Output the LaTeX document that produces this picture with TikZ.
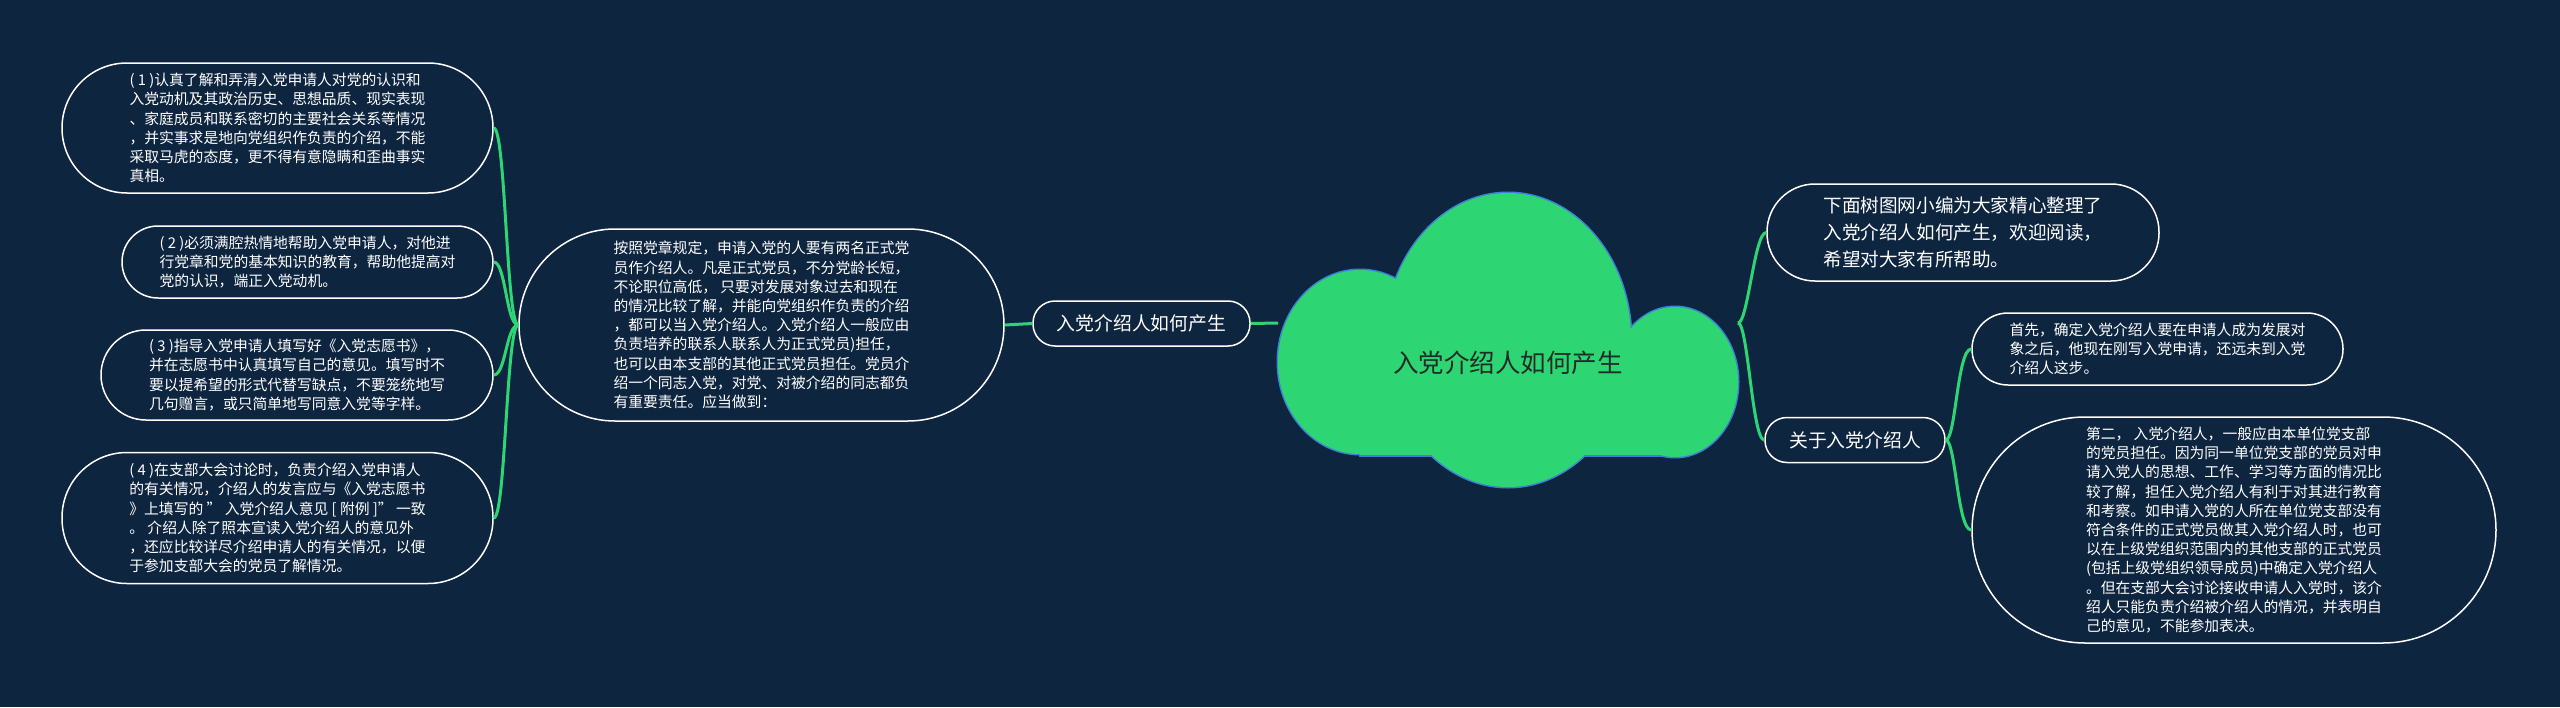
\documentclass[tikz,border=0pt]{standalone}
\usepackage{fontspec}
\setmainfont{Noto Sans CJK SC}

\definecolor{bgnavy}{RGB}{14,37,64}
\definecolor{leafgreen}{RGB}{46,213,115}
\definecolor{cloudblue}{RGB}{62,128,214}
\definecolor{rootink}{RGB}{32,44,40}

\tikzset{
    topic/.style={draw=white, line width=1.5pt, fill=bgnavy, text=white, align=left, inner sep=0pt,
        font=\fontsize{14.8pt}{19.2pt}\selectfont},
    tag/.style={topic, font=\fontsize{18.8pt}{24pt}\selectfont},
    link/.style={leafgreen, line width=3pt}
}

\begin{document}
\begin{tikzpicture}[x=1pt,y=-1pt]

\useasboundingbox (0,0) rectangle (2560,707);
\fill[bgnavy] (0,0) rectangle (2560,707);

% cloud: outline first, fill on top
        \draw[cloudblue, line width=3pt] (1508,340) ellipse [x radius=123, y radius=147];
        \draw[cloudblue, line width=3pt] (1360,362) ellipse [x radius=82, y radius=92];
        \draw[cloudblue, line width=3pt] (1675,382) ellipse [x radius=63, y radius=75];
        \draw[cloudblue, line width=3pt] (1360,400) rectangle (1675,455);
        \fill[leafgreen] (1508,340) ellipse [x radius=123, y radius=147];
        \fill[leafgreen] (1360,362) ellipse [x radius=82, y radius=92];
        \fill[leafgreen] (1675,382) ellipse [x radius=63, y radius=75];
        \fill[leafgreen] (1360,400) rectangle (1675,455);
        \node (root) at (1508,363) [text=rootink, font=\fontsize{25.5pt}{30pt}\selectfont] {入党介绍人如何产生};
        \coordinate (rootW) at (1278,323);
        \coordinate (rootE) at (1738,323);

% left branch
        \node (how) at (1141.5,323.5) [tag, minimum width=217pt, minimum height=45pt, rounded corners=22pt] {入党介绍人如何产生};
        \node (rule) at (761.5,325) [topic, minimum width=485pt, minimum height=192pt, rounded corners=96pt]
            {按照党章规定，申请入党的人要有两名正式党\\员作介绍人。凡是正式党员，不分党龄长短，\\不论职位高低， 只要对发展对象过去和现在\\的情况比较了解，并能向党组织作负责的介绍\\，都可以当入党介绍人。入党介绍人一般应由\\负责培养的联系人联系人为正式党员)担任，\\也可以由本支部的其他正式党员担任。党员介\\绍一个同志入党，对党、对被介绍的同志都负\\有重要责任。应当做到：};
        \node (duty1) at (277.5,128) [topic, minimum width=431pt, minimum height=130pt, rounded corners=65pt]
            {( 1 )认真了解和弄清入党申请人对党的认识和\\入党动机及其政治历史、思想品质、现实表现\\、家庭成员和联系密切的主要社会关系等情况\\，并实事求是地向党组织作负责的介绍，不能\\采取马虎的态度，更不得有意隐瞒和歪曲事实\\真相。};
        \node (duty2) at (307.5,262) [topic, minimum width=371pt, minimum height=72pt, rounded corners=36pt]
            {( 2 )必须满腔热情地帮助入党申请人，对他进\\行党章和党的基本知识的教育，帮助他提高对\\党的认识，端正入党动机。};
        \node (duty3) at (297,375) [topic, minimum width=392pt, minimum height=90pt, rounded corners=45pt]
            {( 3 )指导入党申请人填写好《入党志愿书》，\\并在志愿书中认真填写自己的意见。填写时不\\要以提希望的形式代替写缺点，不要笼统地写\\几句赠言，或只简单地写同意入党等字样。};
        \node (duty4) at (277.5,518) [topic, minimum width=431pt, minimum height=131pt, rounded corners=65pt]
            {( 4 )在支部大会讨论时，负责介绍入党申请人\\的有关情况，介绍人的发言应与《入党志愿书\\》上填写的 " 入党介绍人意见 [ 附例 ]" 一致\\。 介绍人除了照本宣读入党介绍人的意见外\\，还应比较详尽介绍申请人的有关情况，以便\\于参加支部大会的党员了解情况。};

        \draw[link] (how.west) -- (rule.east);
        \draw[link] (rootW) -- (how.east);
        \foreach \d in {duty1,duty2,duty3,duty4}
            \draw[link] (rule.west) .. controls +(-12,0) and +(12,0) .. (\d.east);

% right branch
        \node (intro) at (1963,232.5) [tag, minimum width=392pt, minimum height=97pt, rounded corners=48pt, font=\fontsize{18.6pt}{26.7pt}\selectfont]
            {下面树图网小编为大家精心整理了\\入党介绍人如何产生，欢迎阅读，\\希望对大家有所帮助。};
        \node (about) at (1855,440) [tag, minimum width=180pt, minimum height=45pt, rounded corners=22pt] {关于入党介绍人};
        \node (first) at (2157.5,349) [topic, minimum width=371pt, minimum height=72pt, rounded corners=36pt]
            {首先，确定入党介绍人要在申请人成为发展对\\象之后，他现在刚写入党申请，还远未到入党\\介绍人这步。};
        \node (second) at (2234,530) [topic, minimum width=524pt, minimum height=226pt, rounded corners=113pt]
            {第二， 入党介绍人，一般应由本单位党支部\\的党员担任。因为同一单位党支部的党员对申\\请入党人的思想、工作、学习等方面的情况比\\较了解，担任入党介绍人有利于对其进行教育\\和考察。如申请入党的人所在单位党支部没有\\符合条件的正式党员做其入党介绍人时，也可\\以在上级党组织范围内的其他支部的正式党员\\(包括上级党组织领导成员)中确定入党介绍人\\。但在支部大会讨论接收申请人入党时，该介\\绍人只能负责介绍被介绍人的情况，并表明自\\己的意见，不能参加表决。};

        \foreach \t in {intro,about}
            \draw[link] (rootE) .. controls +(10,0) and +(-12,0) .. (\t.west);
        \foreach \t in {first,second}
            \draw[link] (about.east) .. controls +(10,0) and +(-14,0) .. (\t.west);

    \end{tikzpicture}
\end{document}
